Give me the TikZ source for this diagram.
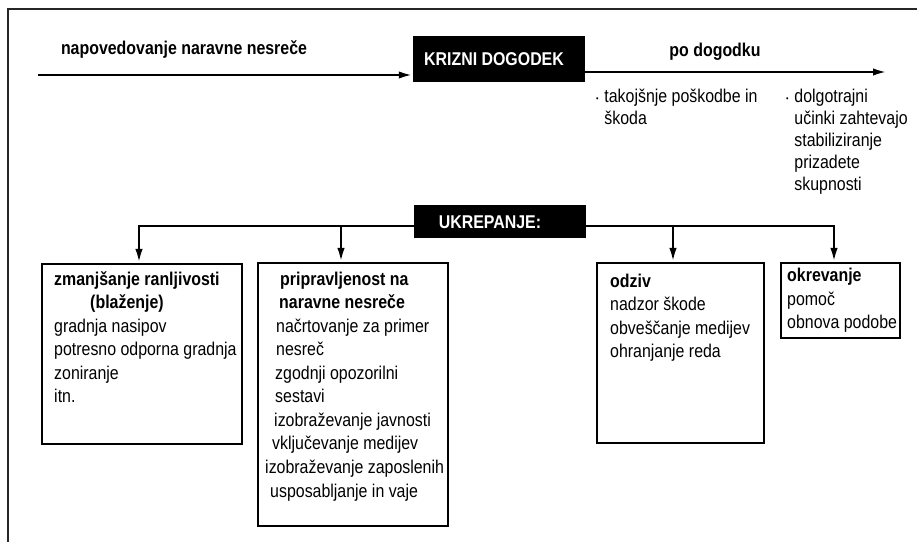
\documentclass[tikz,border=0pt]{standalone}
\usepackage{fontspec}
\setmainfont{Liberation Sans}[FakeStretch=0.86]
\usetikzlibrary{arrows.meta}

\newcommand{\diagfont}{\fontsize{15.8pt}{20.1pt}\selectfont}
\newcommand{\sidefont}{\fontsize{15.8pt}{18.8pt}\selectfont}
\newcommand{\dotitem}{\makebox[7pt][l]{\raisebox{1.6pt}{\scriptsize\textbullet}}}
\newcommand{\dotgap}{\hspace*{7pt}}
\newcommand{\pad}[1]{\hspace*{#1cm}}

\tikzset{
  flow/.style={->,line width=2.1pt},
  darkbox/.style={fill=black,text=white,font=\diagfont\bfseries,inner sep=0pt},
  catbox/.style={draw,line width=1.7pt,inner sep=0pt,anchor=north west},
  % base of a multi-line node = baseline of its last line
  listtext/.style={font=\diagfont,align=left,inner sep=0pt,anchor=base west},
  caption/.style={font=\diagfont\bfseries,inner sep=0pt,anchor=base}
}

\begin{document}
\begin{tikzpicture}[x=0.03cm,y=-0.03cm,>={Latex[length=0.42cm,width=0.22cm]}]
  \useasboundingbox (0,0) rectangle (917,542);
  \draw[line width=1pt,black!85] (8,542) -- (8,9) -- (917,9);

  % time line
  \node[darkbox,minimum width=5.16cm,minimum height=1.38cm] (event) at (499,59) {KRIZNI DOGODEK\hspace*{0.3cm}};
  \coordinate (before) at (38,75);
  \coordinate (after) at (887,72);
  \draw[flow] (before) -- (before -| event.west);
  \draw[flow] (event.east |- after) -- (after);
  \node[caption] (pre) at (184,55) {napovedovanje naravne nesreče};
  \node[caption] (post) at (715,57) {po dogodku};
  \node[listtext,font=\sidefont] (short) at (596,125)
    {\dotitem takojšnje poškodbe in\\\dotgap škoda};
  \node[listtext,font=\sidefont] (long) at (786,191)
    {\dotitem dolgotrajni\\\dotgap učinki zahtevajo\\\dotgap stabiliziranje\\\dotgap prizadete\\\dotgap skupnosti};

  % measures
  \node[darkbox,minimum width=5.16cm,minimum height=0.99cm] (measures) at (500,222) {UKREPANJE:\hspace*{0.6cm}};
  \node[catbox,minimum width=6cm,minimum height=5.4cm] (mitigation) at (41,263) {};
  \node[catbox,minimum width=5.7cm,minimum height=7.89cm] (preparedness) at (257,262) {};
  \node[catbox,minimum width=5.01cm,minimum height=5.4cm] (response) at (596,262) {};
  \node[catbox,minimum width=3.57cm,minimum height=2.25cm] (recovery) at (780,262) {};

  \draw[flow] ([yshift=-0.12cm]measures.west) -| ([xshift=-0.09cm]mitigation.north);
  \draw[flow] ([yshift=-0.12cm]measures.west) -| ([xshift=-0.36cm]preparedness.north);
  \draw[flow] ([yshift=-0.12cm]measures.east) -| ([xshift=-0.225cm]response.north);
  \draw[flow] ([yshift=-0.12cm]measures.east) -| ([xshift=-0.195cm]recovery.north);

  \node[listtext] (mitigation list) at (54,403)
    {\textbf{zmanjšanje ranljivosti}\\\pad{1.08}\textbf{(blaženje)}\\gradnja nasipov\\potresno odporna gradnja\\zoniranje\\itn.};
  \node[listtext] (preparedness list) at (265,497)
    {\pad{0.45}\textbf{pripravljenost na}\\\pad{0.42}\textbf{naravne nesreče}\\\pad{0.33}načrtovanje za primer\\\pad{0.33}nesreč\\\pad{0.30}zgodnji opozorilni\\\pad{0.30}sestavi\\\pad{0.27}izobraževanje javnosti\\\pad{0.21}vključevanje medijev\\izobraževanje zaposlenih\\\pad{0.15}usposabljanje in vaje};
  \node[listtext] (response list) at (610,358)
    {\textbf{odziv}\\nadzor škode\\obveščanje medijev\\ohranjanje reda};
  \node[listtext] (recovery list) at (787,329)
    {\textbf{okrevanje}\\pomoč\\obnova podobe};
\end{tikzpicture}
\end{document}
